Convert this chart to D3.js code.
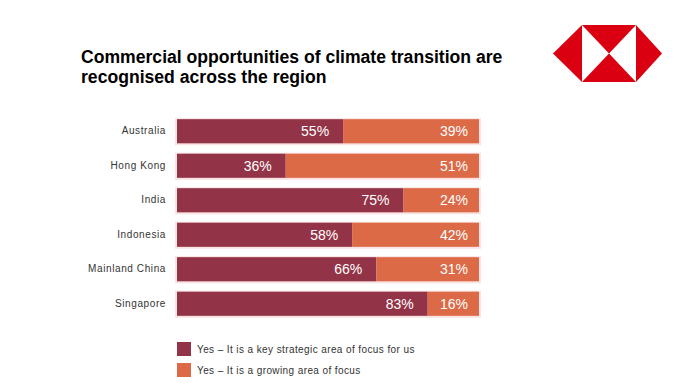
<!DOCTYPE html>
<html><head><meta charset="utf-8">
<script src="https://cdn.jsdelivr.net/npm/d3@7"></script>
<style>body{margin:0;background:#fff}svg{display:block}</style>
</head><body>
<svg id="c" width="698" height="392"></svg>
<script>
const titleLines = ["Commercial opportunities of climate transition are", "recognised across the region"];
const categories = ["Australia", "Hong Kong", "India", "Indonesia", "Mainland China", "Singapore"];
const keyStrategic = [55, 36, 75, 58, 66, 83];
const growingArea = [39, 51, 24, 42, 31, 16];
const seriesNames = ["Yes \u2013 It is a key strategic area of focus for us", "Yes \u2013 It is a growing area of focus"];
const colors = ["#933347", "#dc6a47"];

const svg = d3.select("#c");
const font = "'Liberation Sans', Arial, sans-serif";

// title
svg.append("g").selectAll("text").data(titleLines).join("text")
  .attr("x", 81).attr("y", (d, i) => 63 + i * 19.5)
  .attr("font-family", font).attr("font-weight", "bold").attr("font-size", 17.6)
  .attr("fill", "#000").text(d => d);

// logo
const lg = svg.append("g");
const L = {x0: 582, x1: 636, y0: 25, y1: 82, lx: 553, rx: 662};
const cx = (L.x0 + L.x1) / 2, cy = (L.y0 + L.y1) / 2;
const tris = [
  [[L.lx, cy], [L.x0, L.y0], [L.x0, L.y1]],
  [[L.x1, L.y0], [L.rx, cy], [L.x1, L.y1]],
  [[L.x0, L.y0], [L.x1, L.y0], [cx, cy]],
  [[L.x0, L.y1], [L.x1, L.y1], [cx, cy]]
];
lg.selectAll("path").data(tris).join("path")
  .attr("d", d => d3.line()(d) + "Z").attr("fill", "#db0011");

// chart
const x = d3.scaleLinear().domain([0, 100]).range([177, 479]);
const y = d3.scaleBand().domain(categories).range([114, 321]).paddingInner(0.3).paddingOuter(0.15);

const rows = categories.map((c, i) => ({c, a: keyStrategic[i], b: growingArea[i]}));
const g = svg.append("g");

// faint shadow
g.selectAll("rect.sh").data(rows).join("rect").attr("class", "sh")
  .attr("x", x(0) - 2).attr("y", d => y(d.c) - 1)
  .attr("width", x(100) - x(0) + 4).attr("height", y.bandwidth() + 3)
  .attr("fill", "#f9e3e3");

g.selectAll("rect.a").data(rows).join("rect").attr("class", "a")
  .attr("x", x(0)).attr("y", d => y(d.c))
  .attr("width", d => x(d.a) - x(0)).attr("height", y.bandwidth())
  .attr("fill", colors[0]);
g.selectAll("rect.b").data(rows).join("rect").attr("class", "b")
  .attr("x", d => x(d.a)).attr("y", d => y(d.c))
  .attr("width", d => x(100) - x(d.a)).attr("height", y.bandwidth())
  .attr("fill", colors[1]);

g.selectAll("text.la").data(rows).join("text").attr("class", "la")
  .attr("x", d => x(d.a) - 14).attr("y", d => y(d.c) + y.bandwidth() / 2 + 5)
  .attr("text-anchor", "end").attr("font-family", font).attr("font-size", 14)
  .attr("fill", "#fff").text(d => d.a + "%");
g.selectAll("text.lb").data(rows).join("text").attr("class", "lb")
  .attr("x", x(100) - 11).attr("y", d => y(d.c) + y.bandwidth() / 2 + 5)
  .attr("text-anchor", "end").attr("font-family", font).attr("font-size", 14)
  .attr("fill", "#fff").text(d => d.b + "%");

// y axis labels
const ya = svg.append("g").attr("transform", "translate(166,0)")
  .call(d3.axisLeft(y).tickSize(0).tickPadding(0));
ya.select(".domain").remove();
ya.selectAll("text").attr("font-family", font).attr("font-size", 10)
  .attr("fill", "#333").attr("letter-spacing", 0.6);

// legend
const leg = svg.append("g").selectAll("g").data(seriesNames).join("g")
  .attr("transform", (d, i) => `translate(177,${342 + i * 21})`);
leg.append("rect").attr("width", 14).attr("height", 14).attr("fill", (d, i) => colors[i]);
leg.append("text").attr("x", 20).attr("y", 11).attr("font-family", font)
  .attr("font-size", 10).attr("fill", "#333").attr("letter-spacing", 0.4).text(d => d);
</script>
</body></html>
